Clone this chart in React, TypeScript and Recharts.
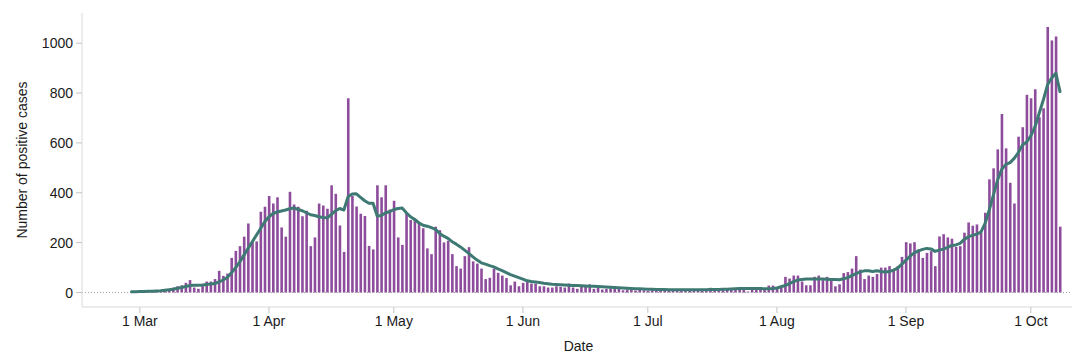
import React from "react";
import {
  ComposedChart,
  Bar,
  Line,
  XAxis,
  YAxis,
  ReferenceLine,
} from "recharts";

// day 0 = 1 Mar; first value is 28 Feb
const firstDay = -2;

const dailyCases: number[] = [
  1, 2, 1, 3, 2, 4, 6, 5, 9, 12,
  20, 25, 29, 39, 50, 20, 15, 28, 44, 44, 54, 87, 67, 76, 139, 167, 186, 224,
  277, 203, 205, 324, 344, 387, 357, 382, 261, 224, 404, 353, 344, 306, 328,
  186, 221,
  357, 349, 336, 430, 396, 269, 163, 779, 387, 345, 316, 307, 187, 173, 430,
  382, 430, 333, 368, 221, 191, 320, 291, 297, 280, 258, 177, 154, 264, 250,
  201, 208, 154, 106, 96, 146, 182, 125, 116, 96, 54, 59, 96, 79,
  68, 58, 29, 44, 25, 39, 42, 36, 36, 25, 25, 20, 20, 25, 23, 20, 36, 20, 15,
  23, 23, 33, 15, 23, 12, 15, 17, 15, 15, 9, 12,
  10, 8, 11, 9, 7, 10, 12, 8, 9, 11, 7, 10, 8, 9,
  7, 7, 9, 12, 9, 19, 9, 9, 16, 13, 16, 16, 13, 15, 4, 13, 15, 20, 16, 28, 28,
  16, 20, 63, 56, 68, 68, 44, 29, 29, 63, 68, 50, 63, 47, 25, 33, 78, 82, 96,
  146, 92, 54, 68, 63,
  74, 100, 100, 106, 87, 106, 143, 202, 197, 202, 173, 139, 159, 166, 106, 225,
  234, 221, 216, 183, 186, 240, 281, 268, 273, 240, 320, 454, 498, 574, 716,
  578, 440, 357, 625, 663, 793, 779, 815, 703, 739, 1065, 1011, 1027, 264,
];

const rollingAverage: number[] = [
  3, 3, 4, 4, 5, 5, 6, 7, 9, 11,
  13, 17, 20, 24, 28, 29, 29, 30, 32, 34, 36, 43, 50, 60, 79, 100, 123, 150,
  177, 204, 230, 257, 284, 304, 317, 323, 327, 331, 336, 339, 333, 328, 320,
  312, 309,
  304, 301, 300, 313, 328, 337, 331, 384, 395, 396, 382, 368, 358, 358, 307,
  309, 320, 324, 333, 337, 339, 320, 304, 293, 280, 270, 266, 260, 253, 237,
  226, 217, 204, 194, 183, 170, 157, 143, 130, 119, 114, 108, 103, 95,
  88, 80, 72, 66, 60, 54, 47, 44, 42, 40, 37, 35, 33, 32, 31, 30, 29, 28, 28,
  27, 26, 25, 25, 24, 23, 22, 21, 20, 19, 18, 17, 16, 15, 15, 14, 13, 13, 12,
  12, 12, 11, 11, 11, 11, 11,
  11, 11, 11, 11, 11, 12, 12, 12, 13, 13, 14, 15, 16, 16, 16, 16, 16, 16, 15,
  15, 16, 18,
  23, 28, 36, 44, 50, 52, 54, 54, 54, 54, 54, 53, 52, 52, 51, 55, 60, 68, 76,
  83, 87, 87, 84,
  87, 84, 82, 84, 90, 98, 114, 130, 146, 159, 167, 173, 177, 175, 165, 170,
  174, 181, 189, 191, 197, 213, 224, 229, 234, 242, 277, 331, 391, 451, 494,
  514, 521, 538, 561, 592, 604, 628, 665, 719, 773, 833, 860, 880, 806,
];

const monthTicks = [0, 31, 61, 92, 122, 153, 184, 214];
const monthLabels = ["1 Mar", "1 Apr", "1 May", "1 Jun", "1 Jul", "1 Aug", "1 Sep", "1 Oct"];
const valueTicks = [0, 200, 400, 600, 800, 1000];

const data = dailyCases.map((cases, i) => ({
  day: firstDay + i,
  cases,
  avg: rollingAverage[i],
}));

const tickStyle = { fontSize: 14, fill: "#1a1a1a" };

export default function App() {
  return (
    <div style={{ fontFamily: "'Liberation Sans', Arial, sans-serif" }}>
      <ComposedChart
        width={1072}
        height={353}
        data={data}
        margin={{ top: 5, right: 5, bottom: 4, left: 0 }}
      >
        <XAxis
          dataKey="day"
          type="number"
          domain={[-13.9, 224.6]}
          ticks={monthTicks}
          interval={0}
          tickFormatter={(v: number) => monthLabels[monthTicks.indexOf(v)]}
          height={50}
          tick={tickStyle}
          tickSize={6}
          tickMargin={3}
          axisLine={{ stroke: "#d9d9d9" }}
          tickLine={{ stroke: "#c4c4c4" }}
          label={{ value: "Date", position: "insideBottom", offset: 6, fontSize: 14, fill: "#1a1a1a" }}
        />
        <YAxis
          type="number"
          domain={[-58, 1121]}
          ticks={valueTicks}
          interval={0}
          width={74}
          tick={tickStyle}
          tickSize={6}
          tickMargin={3}
          axisLine={{ stroke: "#d9d9d9" }}
          tickLine={{ stroke: "#c4c4c4" }}
          label={{
            value: "Number of positive cases",
            angle: -90,
            position: "insideLeft",
            offset: 14,
            fontSize: 14,
            fill: "#1a1a1a",
            style: { textAnchor: "middle" },
          }}
        />
        <ReferenceLine y={0} stroke="#a0a0a0" strokeDasharray="1 2" />
        <Bar dataKey="cases" fill="#8d4c9c" barSize={2.6} isAnimationActive={false} />
        <Line
          dataKey="avg"
          type="linear"
          stroke="#3e7a73"
          strokeWidth={3}
          dot={false}
          strokeLinecap="round"
          strokeLinejoin="round"
          isAnimationActive={false}
        />
      </ComposedChart>
    </div>
  );
}
